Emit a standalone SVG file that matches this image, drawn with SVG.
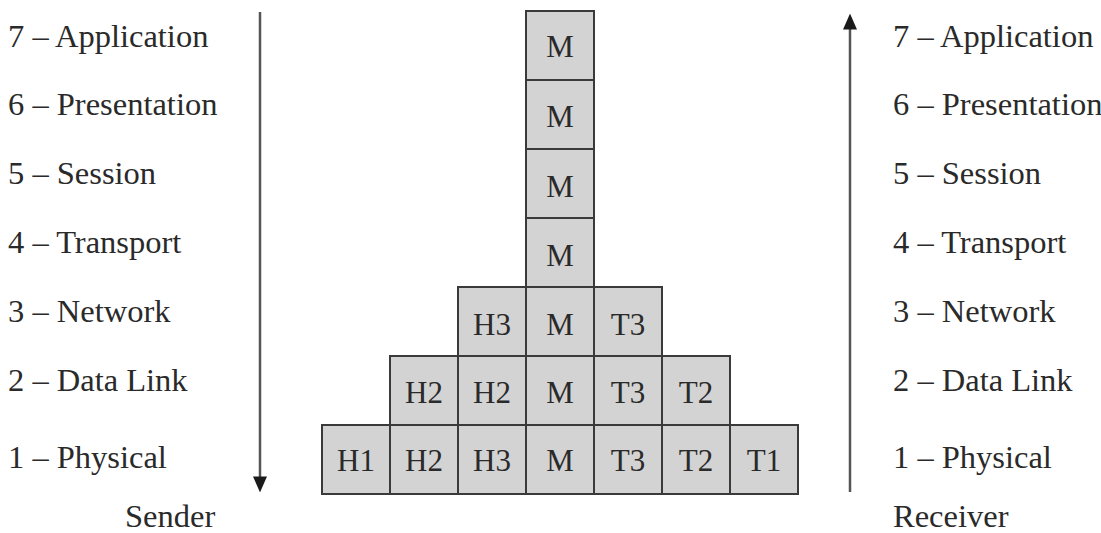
<svg xmlns="http://www.w3.org/2000/svg" width="1101" height="533" viewBox="0 0 1101 533">
<style>
.lbl{font-family:"Liberation Serif",serif;font-size:32.5px;fill:#2a2a2a}
.box{fill:#d3d3d3;stroke:#3a3a3a;stroke-width:2}
.bt{font-family:"Liberation Serif",serif;font-size:31px;fill:#2a2a2a;text-anchor:middle}
.ar{stroke:#555;stroke-width:2.5;fill:none}
</style>
<defs>
<marker id="ah" viewBox="0 0 10 10" refX="1" refY="5" markerWidth="16" markerHeight="14" markerUnits="userSpaceOnUse" orient="auto" preserveAspectRatio="none">
<path d="M0,0 L10,5 L0,10 Z" fill="#1a1a1a"/>
</marker>
</defs>
<rect width="1101" height="533" fill="#fff"/>
<g id="labels-left">
<text class="lbl" x="8" y="47">7 – Application</text>
<text class="lbl" x="8" y="115">6 – Presentation</text>
<text class="lbl" x="8" y="184">5 – Session</text>
<text class="lbl" x="8" y="253">4 – Transport</text>
<text class="lbl" x="8" y="322">3 – Network</text>
<text class="lbl" x="8" y="391">2 – Data Link</text>
<text class="lbl" x="8" y="468">1 – Physical</text>
<text class="lbl" x="125" y="527">Sender</text>
</g>
<g id="labels-right">
<text class="lbl" x="893" y="47">7 – Application</text>
<text class="lbl" x="893" y="115">6 – Presentation</text>
<text class="lbl" x="893" y="184">5 – Session</text>
<text class="lbl" x="893" y="253">4 – Transport</text>
<text class="lbl" x="893" y="322">3 – Network</text>
<text class="lbl" x="893" y="391">2 – Data Link</text>
<text class="lbl" x="893" y="468">1 – Physical</text>
<text class="lbl" x="893" y="527">Receiver</text>
</g>
<g id="connectors">
<line class="ar" x1="260" y1="12" x2="260" y2="478" style="marker-end:url(#ah)"/>
<line class="ar" x1="850" y1="492" x2="850" y2="28" style="marker-end:url(#ah)"/>
</g>
<g id="row7"><rect class="box" x="526" y="11" width="68" height="69"/><text class="bt" x="560" y="57">M</text></g>
<g id="row6"><rect class="box" x="526" y="80" width="68" height="69"/><text class="bt" x="560" y="127">M</text></g>
<g id="row5"><rect class="box" x="526" y="149" width="68" height="69"/><text class="bt" x="560" y="197">M</text></g>
<g id="row4"><rect class="box" x="526" y="218" width="68" height="69"/><text class="bt" x="560" y="266">M</text></g>
<g id="row3">
<rect class="box" x="458" y="287" width="68" height="69"/><text class="bt" x="492" y="335">H3</text>
<rect class="box" x="526" y="287" width="68" height="69"/><text class="bt" x="560" y="335">M</text>
<rect class="box" x="594" y="287" width="68" height="69"/><text class="bt" x="628" y="335">T3</text>
</g>
<g id="row2">
<rect class="box" x="390" y="356" width="68" height="69"/><text class="bt" x="424" y="403">H2</text>
<rect class="box" x="458" y="356" width="68" height="69"/><text class="bt" x="492" y="403">H2</text>
<rect class="box" x="526" y="356" width="68" height="69"/><text class="bt" x="560" y="403">M</text>
<rect class="box" x="594" y="356" width="68" height="69"/><text class="bt" x="628" y="403">T3</text>
<rect class="box" x="662" y="356" width="68" height="69"/><text class="bt" x="696" y="403">T2</text>
</g>
<g id="row1">
<rect class="box" x="322" y="425" width="68" height="69"/><text class="bt" x="356" y="471">H1</text>
<rect class="box" x="390" y="425" width="68" height="69"/><text class="bt" x="424" y="471">H2</text>
<rect class="box" x="458" y="425" width="68" height="69"/><text class="bt" x="492" y="471">H3</text>
<rect class="box" x="526" y="425" width="68" height="69"/><text class="bt" x="560" y="471">M</text>
<rect class="box" x="594" y="425" width="68" height="69"/><text class="bt" x="628" y="471">T3</text>
<rect class="box" x="662" y="425" width="68" height="69"/><text class="bt" x="696" y="471">T2</text>
<rect class="box" x="730" y="425" width="68" height="69"/><text class="bt" x="764" y="471">T1</text>
</g>
</svg>
